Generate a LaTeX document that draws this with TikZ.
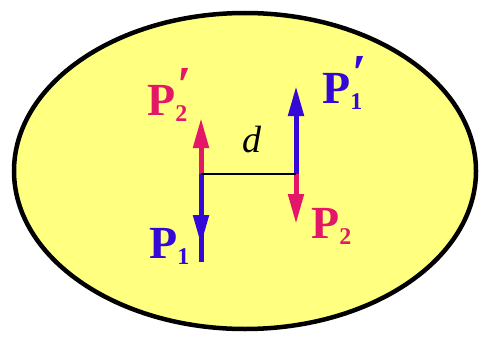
\documentclass[tikz,border=0pt]{standalone}
\usepackage{fontspec}
\setmainfont{Liberation Serif}
\usetikzlibrary{arrows.meta,shapes.geometric}
\definecolor{ptred}{RGB}{228,22,104}
\definecolor{ptblue}{RGB}{52,8,214}
\definecolor{ptyellow}{RGB}{255,255,128}
\tikzset{
  vec/.style={line width=5pt, -{Triangle[length=30pt,width=15pt]}},
  plabel/.style={inner sep=0pt, anchor=base west, font=\fontsize{46}{50}\selectfont\bfseries},
}
\newcommand\momlab[2]{P\makebox[0pt][l]{\hspace{0.05em}\raisebox{0.28em}{\fontsize{52}{54}\selectfont\bfseries #2}}\raisebox{-0.14em}{\fontsize{24}{26}\selectfont\bfseries #1}}
\begin{document}
\begin{tikzpicture}[x=1pt,y=-1pt]
\useasboundingbox (0,0) rectangle (481,337);
\node[draw=black, line width=4.5pt, fill=ptyellow, ellipse, minimum width=462pt, minimum height=316pt, inner sep=0pt] (body) at (245,171) {};
\coordinate (A) at (201,174);
\coordinate (B) at (296,174);
\coordinate (P1end) at (201,262);
\coordinate (P1tip) at (201,245);
\coordinate (P2ptip) at (201,118);
\coordinate (P1ptip) at (296,86);
\coordinate (P2tip) at (296,224);
\draw[ptblue, line width=5pt] (A) -- (P1end);
\draw[vec, ptblue] (A) -- (P1tip);
\draw[vec, ptred] (A) -- (P2ptip);
\draw[vec, ptblue] (B) -- (P1ptip);
\draw[vec, ptred] (B) -- (P2tip);
\draw[black, line width=2pt] (A) -- (B);
\node[inner sep=0pt, font=\fontsize{38}{40}\selectfont\itshape] (d) at (252,140) {d};
\node[plabel, text=ptred] (lP2p) at (147,115) {\momlab{2}{′}};
\node[plabel, text=ptblue] (lP1p) at (322,103) {\momlab{1}{′}};
\node[plabel, text=ptred] (lP2) at (311,238) {\momlab{2}{}};
\node[plabel, text=ptblue] (lP1) at (149,258) {\momlab{1}{}};
\end{tikzpicture}
\end{document}
